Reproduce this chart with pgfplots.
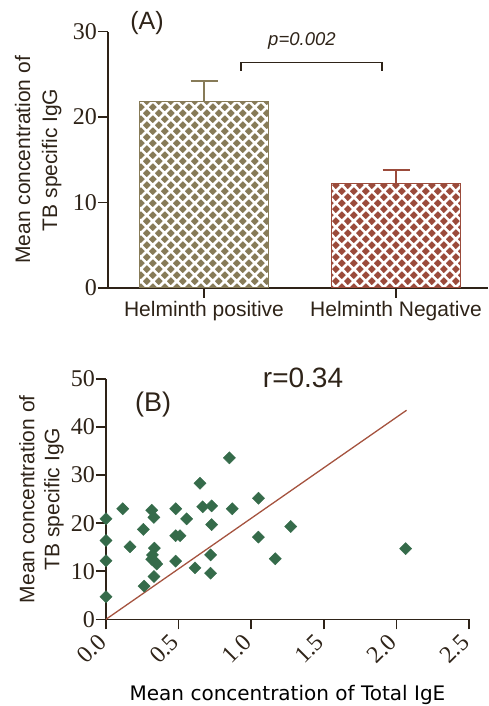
\documentclass[border=0pt]{standalone}
\usepackage{fontspec}
\setmainfont{Liberation Sans}
\newfontfamily\tickfont{Liberation Serif}
\newfontfamily\labfont{DejaVu Sans}
\usepackage{pgfplots}
\pgfplotsset{compat=1.18}
\usetikzlibrary{patterns.meta}
\definecolor{axiscol}{HTML}{2E2318}
\definecolor{barA}{HTML}{877B58}
\definecolor{barB}{HTML}{9B4B3B}
\definecolor{ptcol}{HTML}{356B4A}
\definecolor{linecol}{HTML}{A5533F}
\tikzdeclarepattern{
  name=diamondgrid,
  type=uncolored,
  bounding box={(0pt,0pt) and (11.8pt,11.8pt)},
  tile size={(11.8pt,11.8pt)},
  code={
    \pgfsetlinewidth{2.6pt}
    \pgfpathmoveto{\pgfpoint{-11.8pt}{0pt}}\pgfpathlineto{\pgfpoint{11.8pt}{23.6pt}}
    \pgfpathmoveto{\pgfpoint{-11.8pt}{-11.8pt}}\pgfpathlineto{\pgfpoint{23.6pt}{23.6pt}}
    \pgfpathmoveto{\pgfpoint{0pt}{-11.8pt}}\pgfpathlineto{\pgfpoint{23.6pt}{11.8pt}}
    \pgfpathmoveto{\pgfpoint{-11.8pt}{11.8pt}}\pgfpathlineto{\pgfpoint{11.8pt}{-11.8pt}}
    \pgfpathmoveto{\pgfpoint{-11.8pt}{23.6pt}}\pgfpathlineto{\pgfpoint{23.6pt}{-11.8pt}}
    \pgfpathmoveto{\pgfpoint{0pt}{23.6pt}}\pgfpathlineto{\pgfpoint{23.6pt}{0pt}}
    \pgfusepath{stroke}
  }
}
\pgfplotsset{
  common/.style={
    scale only axis,
    anchor=south west,
    axis lines*=left,
    tick align=outside,
    major tick length=10pt,
    axis line style={axiscol, line width=1.5pt},
    every tick/.style={axiscol, line width=1.5pt},
    /pgf/number format/assume math mode=true,
    yticklabel style={font=\fontsize{24}{26}\selectfont\tickfont, inner sep=1pt, text=axiscol},
    ylabel style={anchor=center, align=center, rotate=0,
      font=\fontsize{21}{27}\selectfont, text=axiscol},
    clip=false,
  }
}
\begin{document}
\begin{tikzpicture}
\useasboundingbox (0,0) rectangle (489pt,706pt);
% Panel A
\begin{axis}[common,
  at={(108pt,418pt)}, width=380pt, height=256.3pt,
  xmin=0.5, xmax=2.479, ymin=0, ymax=30,
  xtick={1,2}, xticklabels={Helminth positive, Helminth Negative},
  xticklabel style={font=\fontsize{21}{24}\selectfont, anchor=base, yshift=-19pt, text=axiscol},
  ytick={0,10,20,30},
  ylabel={Mean concentration of\\TB specific IgG},
  ylabel style={at={(axis description cs:-0.184,0.5)}},
]
\addplot[ybar, bar width=0.672, bar shift=0pt, draw=barA, line width=1pt, fill=barA,
  postaction={pattern=diamondgrid, pattern color=white},
  error bars/.cd, y dir=plus, y explicit,
  error bar style={barA, line width=1.5pt},
  error mark options={barA, line width=1.5pt, mark size=13.5pt, rotate=90}]
  coordinates {(1,21.8) +- (0,2.4)};
\addplot[ybar, bar width=0.672, bar shift=0pt, draw=barB, line width=1pt, fill=barB,
  postaction={pattern=diamondgrid, pattern color=white},
  error bars/.cd, y dir=plus, y explicit,
  error bar style={barB, line width=1.5pt},
  error mark options={barB, line width=1.5pt, mark size=13.5pt, rotate=90}]
  coordinates {(2,12.2) +- (0,1.6)};
\draw[axiscol, line width=1.5pt] (axis cs:1.193,25.4) -- (axis cs:1.193,26.4) -- (axis cs:1.927,26.4) -- (axis cs:1.927,25.4);
\node[font=\fontsize{18.5}{20}\selectfont\itshape, text=axiscol] at (axis cs:1.51,28.97) {p=0.002};
\node[font=\fontsize{25}{27}\selectfont, text=axiscol] at (axis cs:0.703,30.96) {(A)};
\end{axis}
% Panel B
\begin{axis}[common,
  at={(106pt,86.7pt)}, width=363pt, height=240.3pt,
  xmin=0, xmax=2.5, ymin=0, ymax=50,
  xtick={0,0.5,1,1.5,2,2.5}, ytick={0,10,20,30,40,50},
  xticklabel style={xshift=-3pt, yshift=-8pt, rotate=45, anchor=east,
    font=\fontsize{24}{26}\selectfont\tickfont, inner sep=1pt, text=axiscol,
    /pgf/number format/.cd, fixed, fixed zerofill, precision=1},
  ylabel={Mean concentration of\\TB specific IgG},
  ylabel style={at={(axis description cs:-0.178,0.5)}, font=\fontsize{21}{25}\selectfont},
  xlabel={Mean concentration of Total IgE},
  xlabel style={at={(axis description cs:0.5,0)}, anchor=base, yshift=-81.4pt,
    font=\fontsize{20}{22}\selectfont\labfont, text=black},
]
\addplot[linecol, line width=1.3pt] coordinates {(0,0) (2.07,43.5)};
\addplot[only marks, mark=square*, mark size=4.3pt, mark options={rotate=45, fill=ptcol, draw=ptcol}]
  coordinates {
  (0,20.9) (0,16.4) (0,12.2) (0,4.7) (0.115,23.0) (0.165,15.1) (0.257,18.7) (0.262,6.9)
  (0.315,22.7) (0.33,21.2) (0.333,14.8) (0.32,13.4) (0.315,12.5) (0.337,12.0) (0.349,11.5)
  (0.33,8.9) (0.48,23.0) (0.48,17.4) (0.51,17.4) (0.48,12.1) (0.555,20.9) (0.613,10.7)
  (0.647,28.3) (0.666,23.4) (0.728,23.6) (0.728,19.7) (0.72,13.4) (0.72,9.6) (0.85,33.6)
  (0.87,23.0) (1.05,25.2) (1.05,17.1) (1.166,12.6) (1.272,19.3) (2.064,14.7)
  };
\node[font=\fontsize{28}{30}\selectfont, text=axiscol] at (axis cs:1.357,50.2) {r=0.34};
\node[font=\fontsize{27}{29}\selectfont, text=axiscol] at (axis cs:0.324,44.6) {(B)};
\end{axis}
\end{tikzpicture}
\end{document}
